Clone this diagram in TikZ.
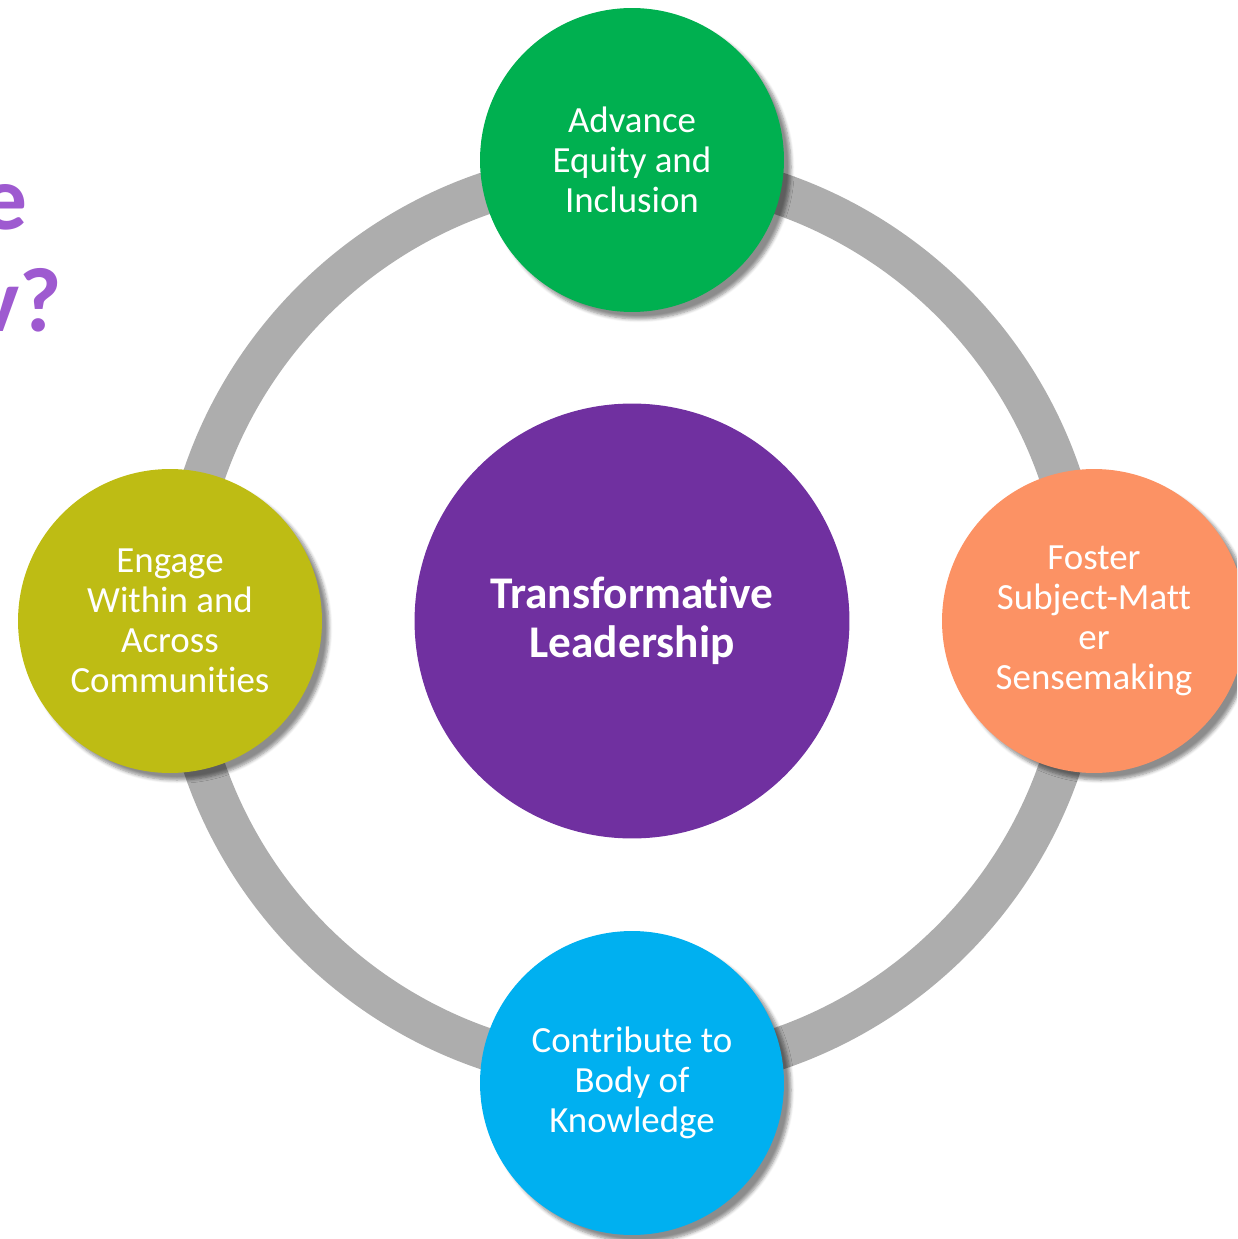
\documentclass[tikz,border=0pt]{standalone}
\usepackage{fontspec}
\setmainfont{Carlito}[Ligatures=NoCommon]
\usetikzlibrary{shadows.blur}

\definecolor{ringgray}{RGB}{173,173,173}
\definecolor{leadpurple}{RGB}{112,48,160}
\definecolor{titlepurple}{RGB}{158,90,208}
\definecolor{equitygreen}{RGB}{0,176,80}
\definecolor{engageolive}{RGB}{190,188,20}
\definecolor{fosterorange}{RGB}{252,146,100}
\definecolor{bodyblue}{RGB}{0,176,240}

\tikzset{
  petal/.style={circle, minimum size=6.08cm, inner sep=0pt, text=white, align=center,
    font=\fontsize{21}{22.8}\selectfont,
    blur shadow={shadow xshift=4pt, shadow yshift=-4pt, shadow blur steps=6, shadow opacity=45}},
  core/.style={circle, minimum size=8.7cm, inner sep=0pt, text=white, align=center,
    font=\fontsize{25.8}{27.9}\selectfont\bfseries, fill=leadpurple},
  ring/.style={draw=ringgray, line width=0.84cm},
  heading/.style={text=titlepurple, inner sep=0pt, font=\fontsize{52}{62}\selectfont\bfseries}
}

\begin{document}
\begin{tikzpicture}[x=0.02cm, y=-0.02cm]
        \clip (0,0) rectangle (1237,1239);

        \node[core] (lead) at (632,621) {Transformative\\Leadership};
        \draw[ring] (lead.center) circle[radius=452];

        \node[petal, fill=equitygreen] (equity) at (632,160) {Advance\\Equity and\\Inclusion};
        \node[petal, fill=engageolive] (engage) at (170,621) {Engage\\Within and\\Across\\Communities};
        \node[petal, fill=fosterorange] (foster) at (1094,621) {Foster\\Subject-Matt\\er\\Sensemaking};
        \node[petal, fill=bodyblue] (body) at (632,1083) {Contribute to\\Body of\\Knowledge};

        % title, cut off at the left edge
        \node[heading, anchor=base east] (titleA) at (28,230) {e};
        \node[heading, anchor=base east] (titleB) at (62,332) {v?};
      \end{tikzpicture}
\end{document}
